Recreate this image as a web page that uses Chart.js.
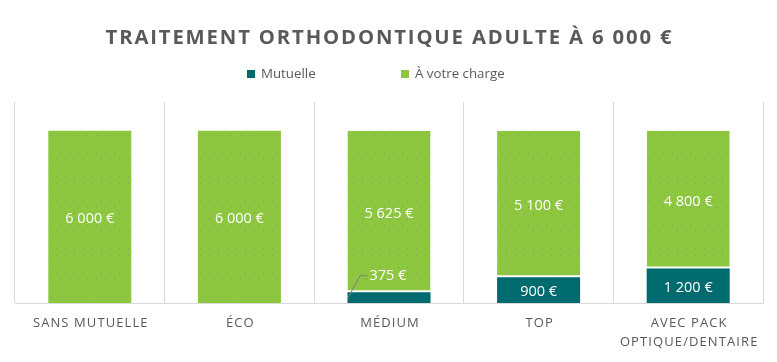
<!DOCTYPE html>
<html><head><meta charset="utf-8">
<script src="https://cdn.jsdelivr.net/npm/chart.js@4"></script>
<style>
body{margin:0;background:#fff;}
#wrap{position:relative;width:777px;height:362px;overflow:hidden;}
#title{position:absolute;left:0;top:22px;width:777px;text-align:center;font-family:"Open Sans";font-weight:700;font-size:20.3px;letter-spacing:1.85px;color:#595959;line-height:28px;padding-left:2px;box-sizing:border-box;}
#legend{position:absolute;top:64px;left:247px;font-family:"Open Sans";font-size:13.3px;color:#595959;line-height:18px;}
.li{position:absolute;white-space:nowrap;}
.sw{display:inline-block;width:8px;height:8px;margin-right:6px;vertical-align:0px;}
canvas{position:absolute;left:0;top:0;}
</style></head>
<body>
<div id="wrap">
<canvas id="c" width="777" height="362"></canvas>
<div id="title">TRAITEMENT ORTHODONTIQUE ADULTE À 6 000 €</div>
<div id="legend"><span class="li" style="left:0"><span class="sw" style="background:#006B6E"></span>Mutuelle</span><span class="li" style="left:154px"><span class="sw" style="background:#8DC63F"></span>À votre charge</span></div>
</div>
<script>
const categories = [["SANS MUTUELLE"], ["ÉCO"], ["MÉDIUM"], ["TOP"], ["AVEC PACK","OPTIQUE/DENTAIRE"]];
const mutuelle = [0, 0, 375, 900, 1200];
const aVotreCharge = [6000, 6000, 5625, 5100, 4800];
const seriesNames = ["Mutuelle", "À votre charge"];
const TEAL = "#006B6E", GREEN = "#8DC63F";

function fmt(v){ return v.toLocaleString('fr-FR').replace(/\s/g,' ') + ' €'; }

// subtle dotted texture like the reference fill
function makePattern(){
  const c = document.createElement('canvas');
  c.width = 18; c.height = 18;
  const g = c.getContext('2d');
  g.fillStyle = GREEN; g.fillRect(0,0,18,18);
  g.fillStyle = 'rgba(110,130,110,0.55)';
  [[2,3],[11,3],[6,9],[15,9],[2,15],[11,15]].forEach(p=>g.fillRect(p[0],p[1],1,1));
  return g.createPattern(c,'repeat');
}
const greenFill = makePattern();

const labelPlugin = {
  id:'labels',
  afterDraw(chart){
    const ctx = chart.ctx;
    const xs = chart.scales.x;
    ctx.save();
    ctx.fillStyle = '#595959';
    ctx.font = '13px "Open Sans"';
    ctx.letterSpacing = '1.1px';
    ctx.textAlign = 'center';
    ctx.textBaseline = 'middle';
    categories.forEach((lines,i)=>{
      const x = xs.getPixelForValue(i);
      lines.forEach((t,j)=>ctx.fillText(t, x+1, 323 + j*19));
    });
    ctx.letterSpacing = '0px';
    ctx.font = '14.5px "Open Sans"';
    ctx.fillStyle = '#fff';
    chart.data.datasets.forEach((ds,di)=>{
      const meta = chart.getDatasetMeta(di);
      meta.data.forEach((bar,i)=>{
        const v = ds.data[i];
        if(!v) return;
        const top = bar.y, bottom = bar.base;
        if(bottom - top < 18){
          const lx = bar.x - bar.width/2;
          ctx.strokeStyle = '#7f7f7f';
          ctx.lineWidth = 1;
          ctx.beginPath();
          ctx.moveTo(lx+0.5, bottom-5);
          ctx.lineTo(lx+12.5, top-16.5);
          ctx.lineTo(lx+20, top-16.5);
          ctx.stroke();
          ctx.textAlign = 'left';
          ctx.fillText(fmt(v), lx+22, top-16);
          ctx.textAlign = 'center';
        } else {
          ctx.fillText(fmt(v), bar.x, (top+bottom)/2 + 2);
        }
      });
    });
    ctx.restore();
  }
};

new Chart(document.getElementById('c'), {
  type:'bar',
  data:{
    labels: categories.map(c=>c.join(' ')),
    datasets:[
      {label:seriesNames[0], data:mutuelle, backgroundColor:TEAL, borderWidth:0},
      {label:seriesNames[1], data:aVotreCharge, backgroundColor:greenFill, borderColor:'#fff',
       borderWidth:(c)=>({bottom: mutuelle[c.dataIndex] ? 2 : 0, top:0, left:0, right:0}), borderSkipped:false}
    ]
  },
  options:{
    responsive:false, animation:false,
    layout:{padding:{top:102,left:15,right:14,bottom:0}},
    plugins:{legend:{display:false}, title:{display:false}, tooltip:{enabled:false}},
    datasets:{bar:{categoryPercentage:1, barPercentage:0.555}},
    scales:{
      x:{stacked:true, offset:true,
         grid:{display:true, offset:true, color:'#d9d9d9', drawTicks:false, lineWidth:1},
         border:{display:true, color:'#d9d9d9'},
         ticks:{display:false},
         afterFit(s){ s.height = 59; }},
      y:{stacked:true, display:false, min:0, max:7000}
    }
  },
  plugins:[labelPlugin]
});
</script>
</body></html>
